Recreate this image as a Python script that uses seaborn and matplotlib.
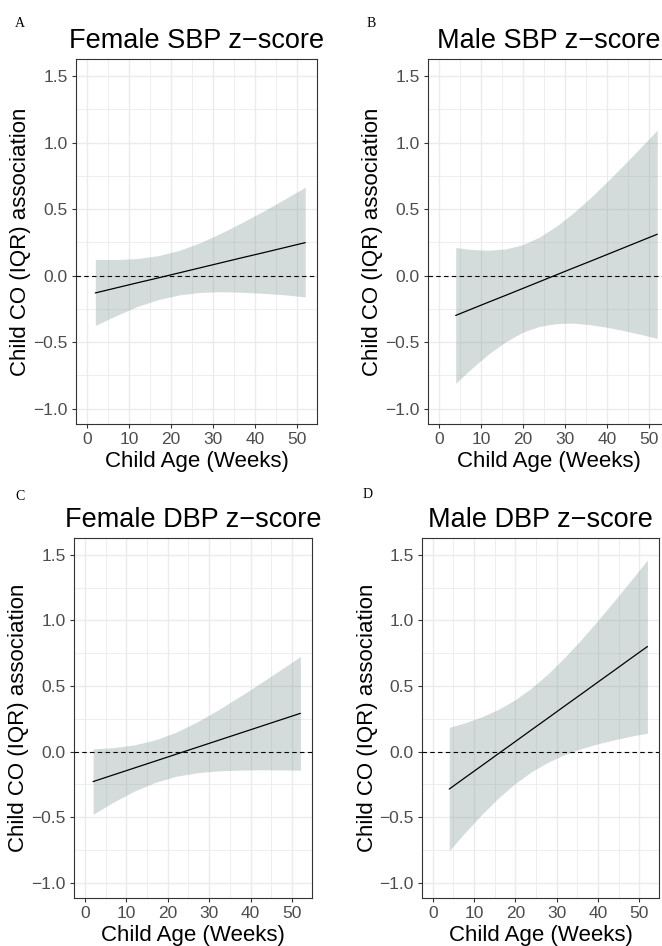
import numpy as np
import pandas as pd
import matplotlib
matplotlib.use("Agg")
import matplotlib.pyplot as plt
from matplotlib.ticker import MultipleLocator
import seaborn as sns

# ---------------- data ----------------
age_f = [2, 7, 12, 17, 22, 27, 32, 37, 42, 47, 52]
age_m = [4, 8, 12, 16, 20, 24, 28, 32, 36, 40, 44, 48, 52]

# A: Female SBP z-score
fit_a = [-0.130, -0.092, -0.054, -0.017, 0.021, 0.059, 0.097, 0.135, 0.172, 0.210, 0.248]
hi_a = [0.122, 0.121, 0.128, 0.150, 0.190, 0.248, 0.320, 0.400, 0.484, 0.573, 0.664]
lo_a = [-0.374, -0.300, -0.232, -0.180, -0.145, -0.126, -0.121, -0.125, -0.133, -0.144, -0.160]

# B: Male SBP z-score
fit_b = [-0.299, -0.248, -0.197, -0.147, -0.096, -0.045, 0.006, 0.057, 0.107, 0.158, 0.209, 0.260, 0.311]
hi_b = [0.211, 0.196, 0.191, 0.201, 0.233, 0.291, 0.372, 0.471, 0.583, 0.704, 0.831, 0.961, 1.094]
lo_b = [-0.809, -0.692, -0.585, -0.495, -0.425, -0.381, -0.360, -0.357, -0.369, -0.388, -0.413, -0.441, -0.472]

# C: Female DBP z-score
fit_c = [-0.228, -0.176, -0.124, -0.072, -0.020, 0.032, 0.084, 0.136, 0.188, 0.240, 0.292]
hi_c = [0.021, 0.031, 0.052, 0.090, 0.148, 0.225, 0.315, 0.413, 0.514, 0.619, 0.725]
lo_c = [-0.477, -0.383, -0.300, -0.234, -0.188, -0.161, -0.147, -0.141, -0.138, -0.139, -0.141]

# D: Male DBP z-score
fit_d = [-0.285, -0.194, -0.104, -0.013, 0.077, 0.168, 0.258, 0.349, 0.439, 0.530, 0.620, 0.711, 0.801]
hi_d = [0.185, 0.222, 0.267, 0.324, 0.396, 0.487, 0.595, 0.720, 0.855, 1.000, 1.150, 1.304, 1.461]
lo_d = [-0.755, -0.610, -0.475, -0.350, -0.242, -0.151, -0.079, -0.022, 0.023, 0.060, 0.090, 0.118, 0.141]

titles = ["Female SBP z\u2212score", "Male SBP z\u2212score",
          "Female DBP z\u2212score", "Male DBP z\u2212score"]
letters = ["A", "B", "C", "D"]
x_ticks = [0, 10, 20, 30, 40, 50]
y_ticks = [-1.0, -0.5, 0.0, 0.5, 1.0, 1.5]
y_tick_labels = ["\u22121.0", "\u22120.5", "0.0", "0.5", "1.0", "1.5"]
x_label = "Child Age (Weeks)"
y_label = "Child CO (IQR) association"

# ---------------- styling ----------------
sns.set_theme(style="whitegrid")
plt.rcParams['font.family'] = ['Liberation Sans', 'DejaVu Sans']

W, H = 662, 946
fig = plt.figure(figsize=(W / 100, H / 100), dpi=100)

# axes boxes in pixels: left, top, right, bottom
boxes = [(76, 59, 317, 424), (428, 59, 669, 424),
         (74, 538, 312, 898), (422, 538, 659, 898)]
letter_pos = [(15, 27), (367, 27), (15, 500), (363, 498)]

panels = [(age_f, fit_a, lo_a, hi_a), (age_m, fit_b, lo_b, hi_b),
          (age_f, fit_c, lo_c, hi_c), (age_m, fit_d, lo_d, hi_d)]

grid_col = "#EBEBEB"
for i, ((l, t, r, b), (age, fit, lo, hi)) in enumerate(zip(boxes, panels)):
    ax = fig.add_axes([l / W, 1 - b / H, (r - l) / W, (b - t) / H])
    ax.set_facecolor("white")
    df = pd.DataFrame({"age": age, "fit": fit, "lo": lo, "hi": hi})
    ax.fill_between(df["age"], df["lo"], df["hi"], color="#708E8A", alpha=0.3,
                    linewidth=0, zorder=2)
    sns.lineplot(data=df, x="age", y="fit", color="black", linewidth=0.9,
                 ax=ax, zorder=4)
    ax.axhline(0, color="black", linewidth=0.8, linestyle=(0, (4, 3)), zorder=3)

    ax.set_xlim(-2.6, 54.8)
    ax.set_ylim(-1.115, 1.628)
    ax.set_xticks(x_ticks)
    ax.set_xticklabels([str(v) for v in x_ticks])
    ax.set_yticks(y_ticks)
    ax.set_yticklabels(y_tick_labels)
    ax.xaxis.set_minor_locator(MultipleLocator(5))
    ax.yaxis.set_minor_locator(MultipleLocator(0.25))
    ax.grid(which="major", color=grid_col, linewidth=1.0, zorder=0)
    ax.grid(which="minor", color=grid_col, linewidth=0.6, zorder=0)
    ax.set_axisbelow(True)
    ax.tick_params(which="major", length=3, width=0.8, color="#333333",
                   labelsize=12.5, labelcolor="#4D4D4D", pad=3,
                   bottom=True, left=True)
    ax.tick_params(which="minor", length=0)
    for s in ax.spines.values():
        s.set_color("#333333")
        s.set_linewidth(0.8)
        s.set_visible(True)
    ax.set_xlabel("")
    ax.set_ylabel("")
    # x label
    ax.text(0.5, -43 / (b - t), x_label, transform=ax.transAxes, ha="center",
            va="baseline", fontsize=16, color="black")
    # y label
    ax.text(-55 / (r - l), 0.5, y_label, transform=ax.transAxes, ha="center",
            va="center", rotation=90, fontsize=16, color="black")
    # title
    ax.text(0.5, 1 + 11 / (b - t), titles[i], transform=ax.transAxes,
            ha="center", va="baseline", fontsize=19.5, color="black")
    # panel letter
    lx, ly = letter_pos[i]
    fig.text(lx / W, 1 - ly / H, letters[i], ha="left", va="baseline",
             fontsize=10, family=["Liberation Serif", "DejaVu Serif"],
             color="black")

fig.savefig("out.png", dpi=100, facecolor="white")
